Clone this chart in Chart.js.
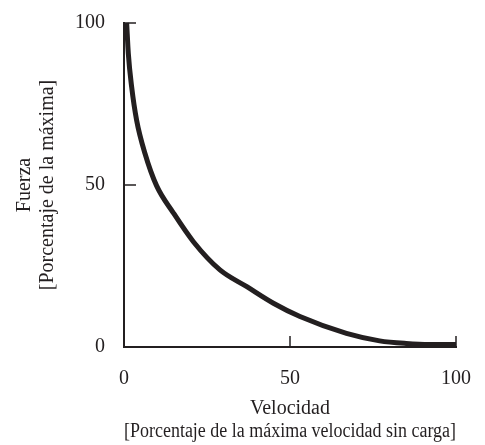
<!DOCTYPE html>
<html>
<head>
<meta charset="utf-8">
<script src="https://cdn.jsdelivr.net/npm/chart.js@4/dist/chart.umd.min.js"></script>
<style>
html,body{margin:0;padding:0;background:#fff;}
#wrap{width:485px;height:445px;position:relative;}
</style>
</head>
<body>
<div id="wrap"><canvas id="c" width="485" height="445"></canvas></div>
<script>
const velocidad = [0.8, 1.3, 2.3, 3.8, 6.3, 9.8, 14.8, 20.9, 28.9, 37, 45, 53, 67, 77, 85, 92, 100];
const fuerza    = [100, 90.6, 80.3, 70, 59.8, 49.8, 41.5, 32.5, 23.8, 18.6, 13.5, 9.4, 4.2, 1.9, 1.1, 0.8, 0.8];
const tickValues = [0, 50, 100];
const xTitle = ['Velocidad', '[Porcentaje de la máxima velocidad sin carga]'];
const yTitle = ['Fuerza', '[Porcentaje de la máxima]'];

const ink = '#231f20';
const family = '"Liberation Serif", "Times New Roman", serif';
const tickFont = { family, size: 20 };
const titleFont = { family, size: 20, lineHeight: 1.15 };

const inwardTicks = {
  id: 'inwardTicks',
  afterDraw(chart) {
    const { ctx, scales: { x, y } } = chart;
    ctx.save();
    ctx.strokeStyle = ink;
    ctx.lineWidth = 1.5;
    tickValues.forEach(v => {
      if (v === 0) return;
      const px = x.getPixelForValue(v);
      ctx.beginPath(); ctx.moveTo(px, x.top); ctx.lineTo(px, x.top - 11); ctx.stroke();
      const py = y.getPixelForValue(v);
      ctx.beginPath(); ctx.moveTo(y.right, py); ctx.lineTo(y.right + 12, py); ctx.stroke();
    });
    ctx.restore();
  }
};

new Chart(document.getElementById('c'), {
  type: 'line',
  data: {
    datasets: [{
      data: velocidad.map((v, i) => ({ x: v, y: fuerza[i] })),
      borderColor: ink,
      borderWidth: 5,
      pointRadius: 0,
      cubicInterpolationMode: 'monotone',
      fill: false,
      clip: false
    }]
  },
  options: {
    responsive: false,
    animation: false,
    layout: { padding: { top: 23, right: 29, left: 0, bottom: 0 } },
    plugins: { legend: { display: false }, tooltip: { enabled: false } },
    scales: {
      x: {
        type: 'linear', min: 0, max: 100,
        afterBuildTicks(s) { s.ticks = tickValues.map(v => ({ value: v })); },
        afterFit(s) { s.height = 98; s.paddingLeft = 0; s.paddingRight = 0; },
        grid: { display: true, drawOnChartArea: false, drawTicks: false },
        border: { color: ink, width: 2 },
        ticks: { color: ink, font: tickFont, padding: 20, maxRotation: 0 },
        title: { display: true, text: xTitle, color: ink, font: titleFont, padding: { top: 0, bottom: 2 } }
      },
      y: {
        type: 'linear', min: 0, max: 100,
        afterBuildTicks(s) { s.ticks = tickValues.map(v => ({ value: v })); },
        afterFit(s) { s.width = 124; s.paddingTop = 0; s.paddingBottom = 0; },
        grid: { display: true, drawOnChartArea: false, drawTicks: false },
        border: { color: ink, width: 2 },
        ticks: { color: ink, font: tickFont, padding: 19 },
        title: { display: true, text: yTitle, color: ink, font: titleFont, padding: { top: 13, bottom: 0 } }
      }
    }
  },
  plugins: [inwardTicks]
});
</script>
</body>
</html>
